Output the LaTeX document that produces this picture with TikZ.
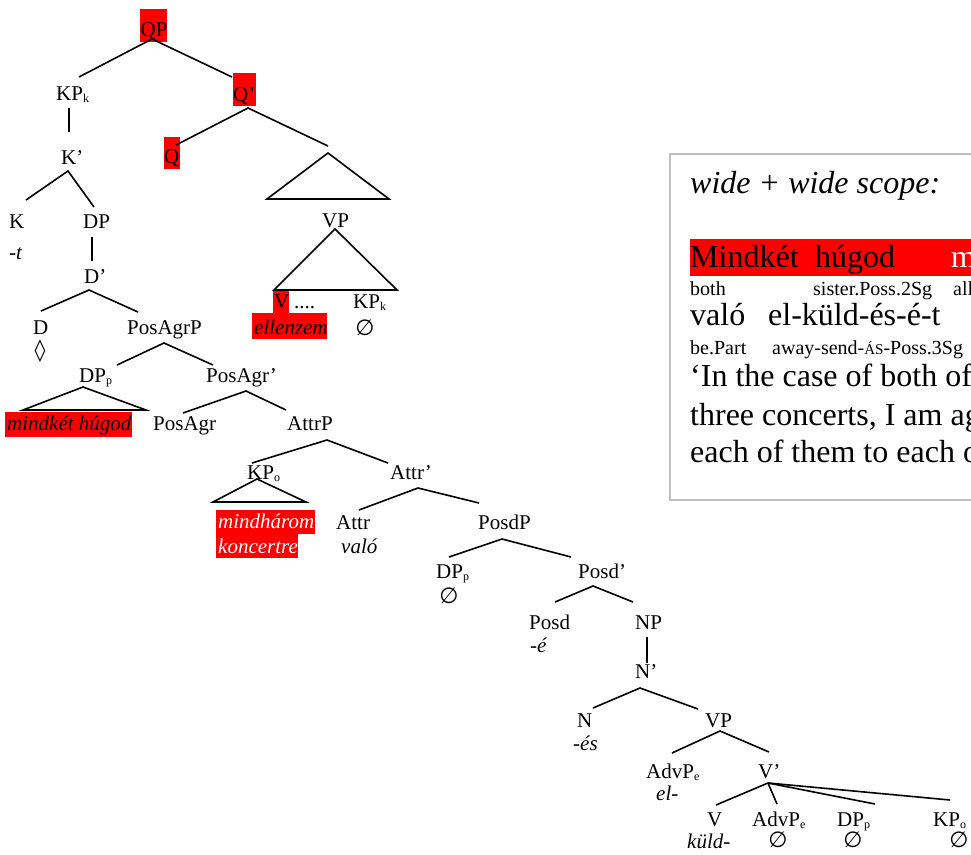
\documentclass[tikz,border=0pt]{standalone}
\usepackage{fontspec}
\setmainfont{Liberation Serif}
\newfontfamily\symf{DejaVu Sans}
\newcommand\sbs[1]{\raisebox{-2.5pt}{\fontsize{12}{12}\selectfont #1}}
\tikzset{
  lbl/.style={inner sep=0pt, anchor=base west, font=\fontsize{21}{24}\selectfont},
  big/.style={inner sep=0pt, anchor=base west, font=\fontsize{32}{36}\selectfont},
  gloss/.style={inner sep=0pt, anchor=base west, font=\fontsize{20}{24}\selectfont},
  empt/.style={inner sep=0pt, anchor=center, font=\symf\fontsize{22}{22}\selectfont},
  br/.style={line width=1.6pt},
  hl/.style={fill=red},
  framebox/.style={draw=black!25, line width=1.6pt},
}
\begin{document}
\begin{tikzpicture}[x=1pt,y=-1pt]
\clip (0,0) rectangle (971,854);
\fill[white] (0,0) rectangle (971,854);

% ---------- highlight boxes ----------
\fill[hl] (140,9) rectangle (167,42);
\fill[hl] (233,73) rectangle (256,106);
\fill[hl] (164,137) rectangle (180,169);
\fill[hl] (273,290) rectangle (289,313);
\fill[hl] (252,313) rectangle (327,339);
\fill[hl] (5,412) rectangle (132,437);
\fill[hl] (216,510) rectangle (315,534);
\fill[hl] (216,534) rectangle (298,558);

% ---------- tree labels ----------
\node[lbl] (QP) at (140.5,36) {QP};
\node[lbl] (KPk) at (56,100) {KP\sbs{k}};
\node[lbl] (Qb) at (233,101) {Q’};
\node[lbl] (Q) at (164,163) {Q};
\node[lbl] (Kb) at (61,164) {K’};
\node[lbl] (K) at (9,228) {K};
\node[lbl] (Kt) at (9,259) {\itshape -t};
\node[lbl] (DP) at (83,228) {DP};
\node[lbl] (VPu) at (322,227) {VP};
\node[lbl] (V) at (274,308) {V};
\node[lbl] (dots) at (294,308) {....};
\node[lbl] (KPk2) at (353,308) {KP\sbs{k}};
\node[lbl] (ellenzem) at (254,334) {\itshape ellenzem};
\node[empt] (e1) at (365,328) {∅};
\node[lbl] (Db) at (84,283) {D’};
\node[lbl] (D) at (33,334) {D};
\node[inner sep=0pt, font=\symf\fontsize{22}{22}\selectfont] (loz) at (40,351) {◊};
\node[lbl] (PosAgrP) at (127,334) {PosAgrP};
\node[lbl] (DPp) at (79,382) {DP\sbs{p}};
\node[lbl] (PosAgrb) at (206,382) {PosAgr’};
\node[lbl] (mk) at (7,430) {\itshape mindkét húgod};
\node[lbl] (PosAgr) at (153,430) {PosAgr};
\node[lbl] (AttrP) at (287,430) {AttrP};
\node[lbl] (KPo) at (247,479) {KP\sbs{o}};
\node[lbl] (Attrb) at (390,479) {Attr’};
\node[lbl, text=white] (mh) at (218,528) {\itshape mindhárom};
\node[lbl, text=white] (kc) at (218,553) {\itshape koncertre};
\node[lbl] (Attr) at (336,529) {Attr};
\node[lbl] (valo) at (341,553) {\itshape való};
\node[lbl] (PosdP) at (478,529) {PosdP};
\node[lbl] (DPp2) at (436,578) {DP\sbs{p}};
\node[empt] (e2) at (449,596) {∅};
\node[lbl] (Posdb) at (578,578) {Posd’};
\node[lbl] (Posd) at (529,629) {Posd};
\node[lbl] (Posde) at (530,652) {\itshape -é};
\node[lbl] (NP) at (635,629) {NP};
\node[lbl] (Nb) at (635,678) {N’};
\node[lbl] (N) at (577,727) {N};
\node[lbl] (Nes) at (573,750) {\itshape -és};
\node[lbl] (VP) at (705,727) {VP};
\node[lbl] (AdvPe) at (646,778) {AdvP\sbs{e}};
\node[lbl] (el) at (656,800) {\itshape el-};
\node[lbl] (Vb) at (758,778) {V’};
\node[lbl] (V2) at (707,826) {V};
\node[lbl] (kuld) at (687,848) {\itshape küld-};
\node[lbl] (AdvPe2) at (752,826) {AdvP\sbs{e}};
\node[empt] (e3) at (778,840) {∅};
\node[lbl] (DPp3) at (837,826) {DP\sbs{p}};
\node[empt] (e4) at (853,840) {∅};
\node[lbl] (KPo2) at (933,826) {KP\sbs{o}};
\node[empt] (e5) at (959,840) {∅};

% ---------- branch end points ----------
\coordinate (qp-a) at (152,39);  \coordinate (qp-l) at (79,77);  \coordinate (qp-r) at (232,77);
\coordinate (kp-a) at (69,108);  \coordinate (kp-b) at (69,132);
\coordinate (qb-a) at (248,108); \coordinate (qb-l) at (176,145); \coordinate (qb-r) at (328,146);
\coordinate (kb-a) at (68,171);  \coordinate (kb-l) at (26,200); \coordinate (kb-r) at (94,207);
\coordinate (t1-a) at (328,153); \coordinate (t1-l) at (267,199); \coordinate (t1-r) at (389,199);
\coordinate (dp-a) at (92,237);  \coordinate (dp-b) at (92,261);
\coordinate (t2-a) at (335,229); \coordinate (t2-l) at (274,290); \coordinate (t2-r) at (397,290);
\coordinate (db-a) at (89,290);  \coordinate (db-l) at (41,311); \coordinate (db-r) at (138,312);
\coordinate (pa-a) at (164,343); \coordinate (pa-l) at (117,365); \coordinate (pa-r) at (213,365);
\coordinate (t3-a) at (83,387);  \coordinate (t3-l) at (23,410); \coordinate (t3-r) at (146,410);
\coordinate (pb-a) at (246,391); \coordinate (pb-l) at (183,413); \coordinate (pb-r) at (286,410);
\coordinate (at-a) at (327,440); \coordinate (at-l) at (252,463); \coordinate (at-r) at (388,463);
\coordinate (t4-a) at (257,479); \coordinate (t4-l) at (213,502); \coordinate (t4-r) at (306,502);
\coordinate (ab-a) at (418,488); \coordinate (ab-l) at (359,510); \coordinate (ab-r) at (479,503);
\coordinate (pd-a) at (502,539); \coordinate (pd-l) at (449,557); \coordinate (pd-r) at (571,557);
\coordinate (ps-a) at (593,586); \coordinate (ps-l) at (555,602); \coordinate (ps-r) at (633,602);
\coordinate (np-a) at (647,637); \coordinate (np-b) at (647,663);
\coordinate (nb-a) at (640,688); \coordinate (nb-l) at (593,708); \coordinate (nb-r) at (698,709);
\coordinate (vp-a) at (720,731); \coordinate (vp-l) at (672,753); \coordinate (vp-r) at (769,752);
\coordinate (vb-a) at (768,783); \coordinate (vb-1) at (716,805); \coordinate (vb-2) at (777,804);
\coordinate (vb-3) at (875,804); \coordinate (vb-4) at (950,800);

% ---------- branches ----------
\draw[br] (qp-l) -- (qp-a) -- (qp-r);
\draw[br] (kp-a) -- (kp-b);
\draw[br] (qb-l) -- (qb-a) -- (qb-r);
\draw[br] (kb-l) -- (kb-a) -- (kb-r);
\draw[br] (t1-a) -- (t1-l) -- (t1-r) -- cycle;
\draw[br] (dp-a) -- (dp-b);
\draw[br] (t2-a) -- (t2-l) -- (t2-r) -- cycle;
\draw[br] (db-l) -- (db-a) -- (db-r);
\draw[br] (pa-l) -- (pa-a) -- (pa-r);
\draw[br] (t3-a) -- (t3-l) -- (t3-r) -- cycle;
\draw[br] (pb-l) -- (pb-a) -- (pb-r);
\draw[br] (at-l) -- (at-a) -- (at-r);
\draw[br] (t4-a) -- (t4-l) -- (t4-r) -- cycle;
\draw[br] (ab-l) -- (ab-a) -- (ab-r);
\draw[br] (pd-l) -- (pd-a) -- (pd-r);
\draw[br] (ps-l) -- (ps-a) -- (ps-r);
\draw[br] (np-a) -- (np-b);
\draw[br] (nb-l) -- (nb-a) -- (nb-r);
\draw[br] (vp-l) -- (vp-a) -- (vp-r);
\draw[br] (vb-a) -- (vb-1);
\draw[br] (vb-a) -- (vb-2);
\draw[br] (vb-a) -- (vb-3);
\draw[br] (vb-a) -- (vb-4);

% ---------- example box ----------
\draw[framebox] (670,154) rectangle (995,500);
\node[big] (title) at (690,193) {\itshape wide + wide scope:};
\fill[hl] (690,239) rectangle (990,276);
\node[big] (w1) at (690,267) {Mindkét};
\node[big] (w2) at (815,267) {húgod};
\node[big, text=white] (w3) at (951,267) {mindhárom};
\node[gloss] (g1) at (690,295) {both};
\node[gloss] (g2) at (813,295) {sister.Poss.2Sg};
\node[gloss] (g3) at (953,295) {all};
\node[big] (w4) at (690,325) {való};
\node[big] (w5) at (768,325) {el-küld-és-é-t};
\node[gloss] (g4) at (690,354) {be.Part};
\node[gloss] (g5) at (772,354) {away-send-{\fontsize{15}{15}\selectfont ÁS}-Poss.3Sg};
\node[big] (tr1) at (690,386) {‘In the case of both of};
\node[big] (tr2) at (690,425) {three concerts, I am ag};
\node[big] (tr3) at (690,462) {each of them to each o};
\end{tikzpicture}
\end{document}
